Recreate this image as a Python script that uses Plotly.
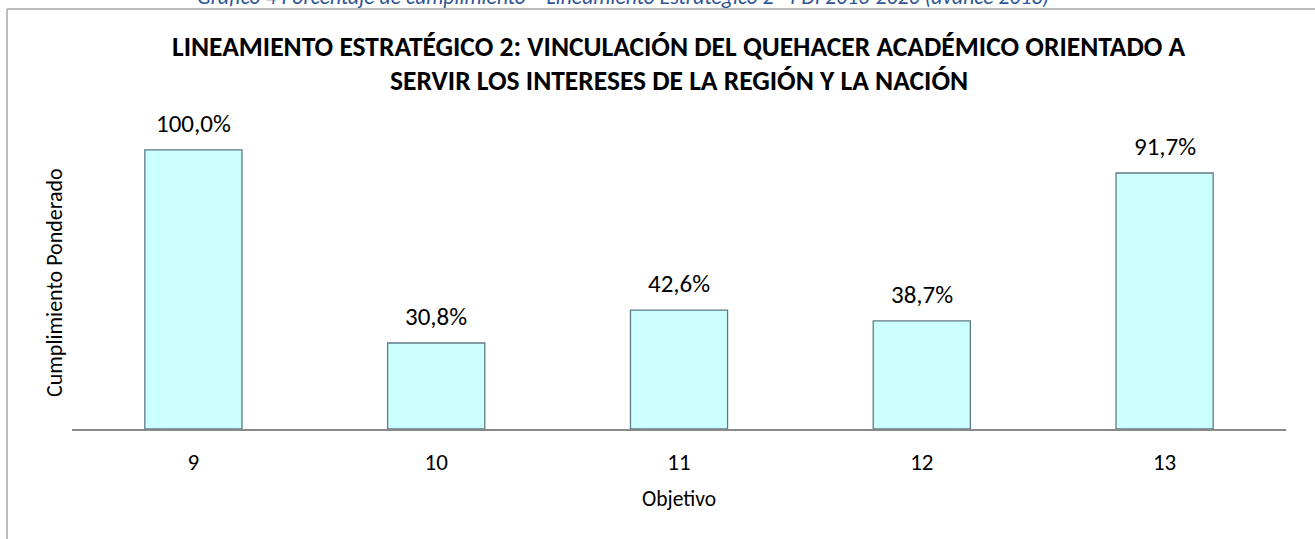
import plotly.graph_objects as go

categorias = ["9", "10", "11", "12", "13"]
cumplimiento = [100.0, 30.8, 42.6, 38.7, 91.7]
etiquetas = ["100,0%", "30,8%", "42,6%", "38,7%", "91,7%"]

FONT = "Carlito, Lato, 'Open Sans', sans-serif"

W, H = 1315, 539
L, R, T, B = 72, 28.5, 94, 110
pw, ph = W - L - R, H - T - B

def px(x):
    return (x - L) / pw

def py(y):
    return (H - B - y) / ph

fig = go.Figure()
fig.add_trace(go.Bar(
    x=categorias, y=cumplimiento,
    marker=dict(color="#CCFFFF", line=dict(color="#5F7A85", width=1.3)),
    width=0.4,
    hoverinfo="skip",
))

annotations = []
for i, (v, t) in enumerate(zip(cumplimiento, etiquetas)):
    annotations.append(dict(x=i, y=v, xref="x", yref="y", text=t, showarrow=False,
                            yanchor="bottom", yshift=9,
                            font=dict(family=FONT, size=25, color="#000000")))

annotations.append(dict(x=px(679), y=py(46), xref="paper", yref="paper",
                        text="<b>LINEAMIENTO ESTRATÉGICO 2: VINCULACIÓN DEL QUEHACER ACADÉMICO ORIENTADO A</b>",
                        showarrow=False, xanchor="center", yanchor="middle",
                        font=dict(family=FONT, size=27.5, color="#000000")))
annotations.append(dict(x=px(679), y=py(80), xref="paper", yref="paper",
                        text="<b>SERVIR LOS INTERESES DE LA REGIÓN Y LA NACIÓN</b>",
                        showarrow=False, xanchor="center", yanchor="middle",
                        font=dict(family=FONT, size=27.5, color="#000000")))
annotations.append(dict(x=px(54), y=py(283), xref="paper", yref="paper",
                        text="Cumplimiento Ponderado", textangle=-90, showarrow=False,
                        xanchor="center", yanchor="middle",
                        font=dict(family=FONT, size=22, color="#000000")))
annotations.append(dict(x=px(623), y=py(-4), xref="paper", yref="paper",
                        text="<i>Gráfico 4 Porcentaje de cumplimiento – Lineamiento Estratégico 2 - PDI 2016-2020 (avance 2018)</i>",
                        showarrow=False, xanchor="center", yanchor="middle",
                        font=dict(family=FONT, size=21.7, color="#2F5597")))

shapes = [
    dict(type="line", xref="paper", yref="paper", x0=px(7), x1=px(7), y0=py(9), y1=py(545),
         line=dict(color="#A6A6A6", width=1.5)),
    dict(type="line", xref="paper", yref="paper", x0=px(7), x1=px(1320), y0=py(9), y1=py(9),
         line=dict(color="#A6A6A6", width=1.5)),
]

fig.update_layout(
    width=W, height=H,
    margin=dict(l=L, r=R, t=T, b=B),
    paper_bgcolor="white", plot_bgcolor="white",
    showlegend=False,
    hovermode=False,
    annotations=annotations,
    shapes=shapes,
    xaxis=dict(type="category", range=[-0.5, 4.5], showline=True, linecolor="#898989", linewidth=2,
               ticks="outside", ticklen=11, tickcolor="rgba(0,0,0,0)",
               tickfont=dict(family=FONT, size=23, color="#000000"),
               title=dict(text="Objetivo", font=dict(family=FONT, size=21.5, color="#000000"),
                          standoff=16),
               showgrid=False, zeroline=False),
    yaxis=dict(range=[0, 120], showticklabels=False, showgrid=False, zeroline=False,
               showline=False, ticks=""),
)

fig.write_html("out.html", config={"displayModeBar": False},
               post_script="document.body.style.margin='0px';")
